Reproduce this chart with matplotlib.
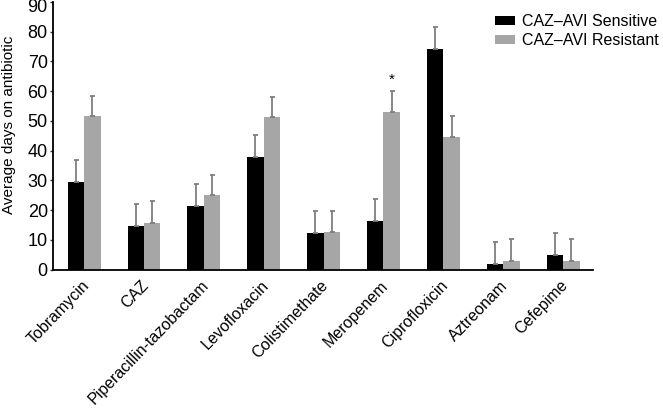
import matplotlib
matplotlib.use("Agg")
import matplotlib.pyplot as plt
import matplotlib.transforms as mtransforms
import numpy as np

plt.rcParams['font.family'] = ['Liberation Sans', 'DejaVu Sans']

categories = ["Tobramycin", "CAZ", "Piperacillin-tazobactam", "Levofloxacin",
              "Colistimethate", "Meropenem", "Ciprofloxicin", "Aztreonam", "Cefepime"]
sensitive = [29.6, 14.6, 21.3, 38.0, 12.3, 16.3, 74.2, 1.9, 4.9]
sensitive_err = [7.1, 7.4, 7.4, 7.2, 7.4, 7.4, 7.3, 7.3, 7.5]
resistant = [51.5, 15.8, 25.0, 51.2, 12.5, 53.0, 44.6, 3.0, 3.0]
resistant_err = [6.8, 7.2, 6.8, 6.8, 7.2, 7.2, 7.1, 7.3, 7.3]
yticks = [0, 10, 20, 30, 40, 50, 60, 70, 80, 90]

W, H = 663, 408
fig = plt.figure(figsize=(W / 100, H / 100), dpi=100)
ax = fig.add_axes([53 / W, 1 - 269.5 / H, (593 - 53) / W, (269.5 - 2) / H])

x = np.arange(len(categories))
w = 0.275
ekw = dict(ecolor='#7f7f7f', elinewidth=1.3, capsize=1.8, capthick=1.3)
ax.bar(x - w / 2, sensitive, w, color='black', label='CAZ\u2013AVI Sensitive',
       yerr=[np.zeros(len(x)), sensitive_err], error_kw=ekw)
ax.bar(x + w / 2, resistant, w, color='#a6a6a6', label='CAZ\u2013AVI Resistant',
       yerr=[np.zeros(len(x)), resistant_err], error_kw=ekw)

mi = categories.index("Meropenem")
ax.text(x[mi] + w / 2, resistant[mi] + resistant_err[mi] + 3.5, '*', ha='center',
        va='center', fontsize=11)

ax.set_xlim(-0.52, 8.5)
ax.set_ylim(0, 90)
ax.set_yticks(yticks)
ax.set_yticklabels([str(v) for v in yticks], fontsize=13)
ax.set_xticks(x)
ax.set_xticklabels(categories, rotation=46, ha='right', rotation_mode='anchor', fontsize=11.5)
ax.tick_params(axis='x', length=0, pad=6)
ax.tick_params(axis='y', length=2.2, width=1.0, pad=1.5, color='#333333')

# shift x labels slightly left, keep top y label inside the figure
for lab in ax.get_xticklabels():
    lab.set_transform(lab.get_transform() +
                      mtransforms.ScaledTranslation(-3 / 100, 0, fig.dpi_scale_trans))
ylabs = ax.get_yticklabels()
ylabs[-1].set_transform(ylabs[-1].get_transform() +
                        mtransforms.ScaledTranslation(0, -4 / 100, fig.dpi_scale_trans))

for s in ['top', 'right']:
    ax.spines[s].set_visible(False)
ax.spines['left'].set_linewidth(1.3)
ax.spines['bottom'].set_linewidth(1.3)

fig.text(9 / W, 1 - 125 / H, 'Average days on antibiotic', rotation=90,
         ha='center', va='center', fontsize=11)

ax.legend(loc='upper left', bbox_to_anchor=(495 / W, 1 - 14 / H),
          bbox_transform=fig.transFigure, frameon=False, fontsize=11.5,
          handlelength=1.25, handleheight=0.5, handletextpad=0.45, labelspacing=0.25,
          borderaxespad=0, borderpad=0)

fig.savefig('out.png', dpi=100)
